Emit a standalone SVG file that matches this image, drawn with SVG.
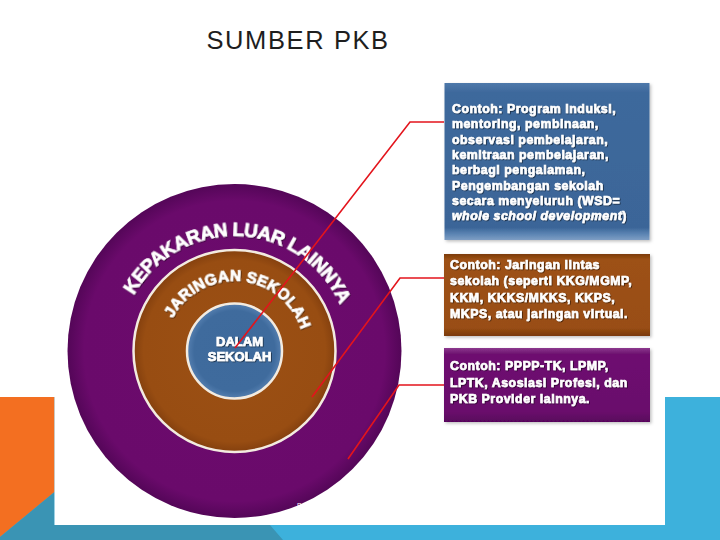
<svg xmlns="http://www.w3.org/2000/svg" width="720" height="540" viewBox="0 0 720 540">
<style>
.title{font-family:"Liberation Sans",Arial,sans-serif;font-size:25.5px;fill:#1e1e1e;letter-spacing:1.6px}
.box{font-family:"Liberation Sans",Arial,sans-serif;font-weight:bold;font-size:12.3px;fill:#fff;stroke:#fff;stroke-width:0.65px;letter-spacing:0.55px}
.ring{font-family:"Liberation Sans",Arial,sans-serif;font-weight:bold;fill:#fff;stroke:#fff;stroke-width:0.7px}
.conn{stroke:#e3141c;stroke-width:1.6;fill:none}
</style>
<defs>
<radialGradient id="gOuter" cx="0.5" cy="0.5" r="0.5">
<stop offset="0" stop-color="#6c0b6d"/><stop offset="0.9" stop-color="#6a0a6b"/><stop offset="1" stop-color="#540658"/>
</radialGradient>
<radialGradient id="gMid" cx="0.5" cy="0.5" r="0.5">
<stop offset="0" stop-color="#9c5014"/><stop offset="0.9" stop-color="#984d12"/><stop offset="1" stop-color="#84400e"/>
</radialGradient>
<radialGradient id="gIn" cx="0.5" cy="0.5" r="0.5">
<stop offset="0" stop-color="#3e6a9c"/><stop offset="0.85" stop-color="#3f6b9d"/><stop offset="1" stop-color="#557fb0"/>
</radialGradient>
<linearGradient id="gB1" x1="0" y1="0" x2="0" y2="1">
<stop offset="0" stop-color="#4f79aa"/><stop offset="0.06" stop-color="#3e699c"/><stop offset="0.92" stop-color="#3b6598"/><stop offset="0.96" stop-color="#5a83b2"/><stop offset="1" stop-color="#7e9ec4"/>
</linearGradient>
<linearGradient id="gB2" x1="0" y1="0" x2="0" y2="1">
<stop offset="0" stop-color="#7c3b0c"/><stop offset="0.07" stop-color="#9d5114"/><stop offset="0.9" stop-color="#994e13"/><stop offset="1" stop-color="#7a3a0c"/>
</linearGradient>
<linearGradient id="gB3" x1="0" y1="0" x2="0" y2="1">
<stop offset="0" stop-color="#8c3a8e"/><stop offset="0.08" stop-color="#6e1070"/><stop offset="0.86" stop-color="#6a0c6c"/><stop offset="1" stop-color="#58065c"/>
</linearGradient>
<filter id="ts" x="-10%" y="-10%" width="120%" height="130%">
<feDropShadow dx="0.8" dy="0.8" stdDeviation="0.6" flood-color="#000" flood-opacity="0.6"/>
</filter>
<filter id="bs" x="-5%" y="-5%" width="112%" height="115%">
<feDropShadow dx="1.5" dy="1.5" stdDeviation="1.5" flood-color="#000" flood-opacity="0.25"/>
</filter>
<path id="arcOuter" d="M121.25 370.97 A115 115 0 1 1 347.75 370.97"/>
<path id="arcMid" d="M165.56 363.16 A70 70 0 1 1 303.44 363.16"/>
</defs>

<g id="background">
<rect x="0" y="0" width="720" height="540" fill="#fff"/>
<rect x="0" y="397" width="720" height="143" fill="#3db1dc"/>
<polygon points="0,397 54.5,397 54.5,492 0,537" fill="#f36f21"/>
<polygon points="0,537 54.5,492 54.5,525 270,525 283,540 0,540" fill="#3a94b4"/>
<rect x="54.5" y="0" width="610.5" height="525" fill="#fff"/>
</g>

<text class="title" x="206.5" y="48.5">SUMBER PKB</text>

<g id="outer">
<circle cx="234.5" cy="351" r="167" fill="url(#gOuter)"/>
<text class="ring" font-size="19" letter-spacing="-0.5" filter="url(#ts)" transform="rotate(2.5 234.5 351)"><textPath href="#arcOuter" startOffset="50%" text-anchor="middle">KEPAKARAN LUAR LAINNYA</textPath></text>
</g>
<g id="middle">
<circle cx="234.5" cy="351" r="101" fill="url(#gMid)" stroke="#f3ebe0" stroke-width="2.5"/>
<text class="ring" font-size="15.5" letter-spacing="0.2" filter="url(#ts)" transform="rotate(5 234.5 351)"><textPath href="#arcMid" startOffset="50%" text-anchor="middle">JARINGAN SEKOLAH</textPath></text>
</g>
<g id="inner">
<circle cx="234.5" cy="351" r="47.5" fill="url(#gIn)" stroke="#f3ebe0" stroke-width="2.5"/>
<text class="ring" font-size="13" text-anchor="middle" filter="url(#ts)"><tspan x="239.5" y="345.5">DALAM</tspan><tspan x="239.5" y="360.5">SEKOLAH</tspan></text>
</g>

<g id="connectors">
<polyline class="conn" points="444,122 410,122 235,348"/>
<polyline class="conn" points="444,278 400,278 312,397"/>
<polyline class="conn" points="444,385 399,385 348,459"/>
</g>

<g id="box1">
<rect x="444.5" y="83" width="205" height="157" fill="url(#gB1)" filter="url(#bs)"/>
<text class="box" filter="url(#ts)">
<tspan x="452" y="113">Contoh: Program Induksi,</tspan>
<tspan x="452" y="128.3">mentoring, pembinaan,</tspan>
<tspan x="452" y="143.6">observasi pembelajaran,</tspan>
<tspan x="452" y="158.9">kemitraan pembelajaran,</tspan>
<tspan x="452" y="174.2">berbagi pengalaman,</tspan>
<tspan x="452" y="189.5">Pengembangan sekolah</tspan>
<tspan x="452" y="204.8">secara menyeluruh (WSD=</tspan>
<tspan x="452" y="220.1" font-style="italic">whole school development</tspan><tspan>)</tspan>
</text>
</g>

<g id="box2">
<rect x="444" y="254" width="206" height="82" fill="url(#gB2)" filter="url(#bs)"/>
<text class="box" filter="url(#ts)">
<tspan x="450" y="268.5">Contoh: Jaringan lintas</tspan>
<tspan x="450" y="285">sekolah (seperti KKG/MGMP,</tspan>
<tspan x="450" y="301.5">KKM, KKKS/MKKS, KKPS,</tspan>
<tspan x="450" y="318">MKPS, atau jaringan virtual.</tspan>
</text>
</g>

<g id="box3">
<rect x="444" y="348" width="206" height="74" fill="url(#gB3)" filter="url(#bs)"/>
<text class="box" filter="url(#ts)">
<tspan x="450" y="370">Contoh: PPPP-TK, LPMP,</tspan>
<tspan x="450" y="386.5">LPTK, Asosiasi Profesi, dan</tspan>
<tspan x="450" y="403">PKB Provider lainnya.</tspan>
</text>
</g>

<text x="297" y="508" font-family="Liberation Sans,Arial,sans-serif" font-size="7" fill="#fff">B</text>
</svg>
